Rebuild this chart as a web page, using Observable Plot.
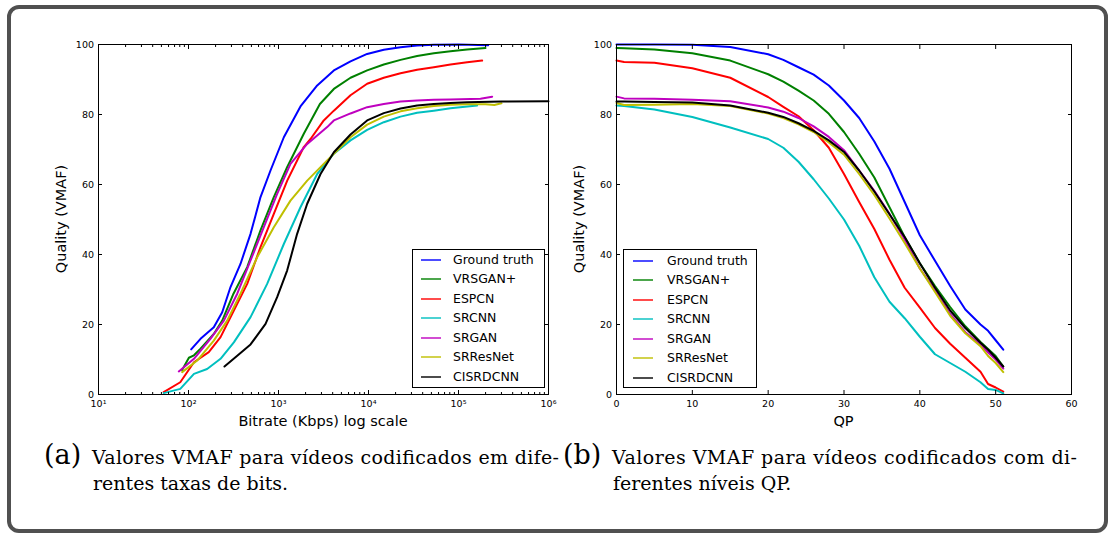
<!DOCTYPE html>
<html><head><meta charset="utf-8">
<script src="https://cdn.jsdelivr.net/npm/d3@7"></script>
<script src="https://cdn.jsdelivr.net/npm/@observablehq/plot@0.6"></script>
<style>
body{margin:0;background:#fff;}
#wrap{position:relative;width:1109px;height:536px;overflow:hidden;background:#fff;font-family:"DejaVu Sans",sans-serif;}
#box{position:absolute;left:7px;top:5px;width:1101px;height:528px;border:4px solid #505050;border-radius:12px;box-sizing:border-box;}
.plot{position:absolute;top:0;}
.legend{position:absolute;border:1px solid #000;background:#fff;box-sizing:border-box;}
.lrow{position:absolute;height:20px;font-size:12.5px;line-height:20px;color:#000;white-space:nowrap;}
.lline{position:absolute;top:9px;height:2px;width:20px;}
.axt{position:absolute;font-size:14.5px;line-height:17px;white-space:nowrap;color:#000;}
#cap{position:absolute;left:0;top:0;}
</style></head>
<body><div id="wrap"><div id="box"></div></div>
<script>
// ---------- Series (legend order) ----------
const seriesNames = ["Ground truth","VRSGAN+","ESPCN","SRCNN","SRGAN","SRResNet","CISRDCNN"];
const seriesColors = ["#0000ff","#008000","#ff0000","#00bfbf","#bf00bf","#bfbf00","#000000"];

// ---------- Panel (a): bitrate (Kbps) vs VMAF ----------
const gtRate  = [107,136,191,237,293,378,489,631,815,1146,1754,2692,4121,6310,9661,14791,22699,34674,53211,100000,213800];
const gtVmaf  = [12.9,15.9,19.2,23.5,30.7,37.3,45.9,56.4,64,73.5,82.3,88.3,92.6,95.2,97.3,98.5,99.2,99.7,99.9,100,99.8];
const vrRate  = [85,101,115,136,191,237,316,449,631,887,1250,1910,2884,4121,6310,9661,14791,22699,34674,53211,81470,124700,199500];
const vrVmaf  = [7.0,10.5,11.2,13.1,17.3,21.1,28.8,36.4,46.9,56.4,65,74.5,83,87.3,90.5,92.6,94.3,95.6,96.7,97.5,98.1,98.6,99.0];
const esRate  = [53,81,115,168,227,305,449,631,887,1250,1910,2270,3184,4121,6310,9661,14791,22699,34674,53211,81470,124700,183200];
const esVmaf  = [0.7,3.5,9.2,12.1,16.4,23,31.6,42.1,51.6,61.1,70.7,73,78.3,81.1,85.5,88.8,90.5,91.8,92.8,93.5,94.3,94.9,95.4];
const scRate  = [53,81,115,161,227,319,489,748,1146,1754,2692,4121,6310,9661,14791,22699,34674,53211,81470,161100];
const scVmaf  = [0.4,1.6,5.9,7.3,10.2,14.9,22.1,31.6,43,53.5,63,68.8,72.6,75.6,77.8,79.4,80.5,81.1,81.8,82.6];
const sgRate  = [78,115,175,247,348,489,687,966,1358,2084,3475,4121,6310,9661,14791,22699,34674,53211,81470,175400,236600];
const sgVmaf  = [6.6,10.2,15.9,21.1,28.8,38.3,47.8,57.3,65.9,71.6,76.4,78.3,80.3,82.1,83,83.7,84,84.2,84.3,84.5,85.1];
const srRate  = [85,125,191,269,378,579,887,1358,2084,3475,6310,9661,14791,22699,34674,53211,81470,124700,200000,250000,300000];
const srVmaf  = [6.4,9.7,15.4,21.1,28.8,39.2,47.8,55.4,61.1,66.9,73.5,77.1,79.4,80.9,81.8,82.4,82.8,82.9,82.9,82.7,83.2];
const ciRate  = [251,348,489,718,966,1247,1611,2084,2931,4121,6310,9661,14791,22699,34674,53211,81470,124700,300000,1000000];
const ciVmaf  = [8,11.1,14.3,20.2,27.8,35.4,45.9,54.5,63,69.2,74.3,78.3,80.4,81.7,82.6,83,83.3,83.5,83.7,83.8];

// ---------- Panel (b): QP vs VMAF ----------
const qp     = [0,1,5,10,15,20,22,24,26,28,30,32,34,36,38,40,42,44,46,48,49,50,51];
const gtQp   = [100,100,100,99.9,99.3,97.2,95.6,93.5,91.4,88.3,84,79,72.3,64.5,55,45.5,38.2,31,24.3,20,18.2,15.5,12.8];
const vrQp   = [99,98.9,98.6,97.5,95.4,91.5,89.4,86.8,84,80.2,75,68.8,62,53.5,45,37.5,31,25,19.5,15,13,11,8];
const esQp   = [95.4,95,94.8,93.2,90.5,85,82.2,79.5,75.5,70.5,63,55,47.3,38.5,30.5,24.8,19,14.5,10.5,6.5,3,2,0.8];
const scQp   = [82.6,82.4,81.4,79.3,76.3,73,70.5,66.5,61.5,56,50,42.5,33.5,26.5,21.8,16.5,11.5,9,6.5,3.5,1.6,1.3,0.3];
const sgQp   = [85.1,84.6,84.5,84.2,83.8,82,80.8,79,76.6,73.6,69.8,64,58.2,51.6,44.3,36,29.8,23,17.8,14.3,12,10,7.4];
const srQp   = [83.3,82.7,82.8,83.0,82.4,80.3,79,77.2,75,72,68.5,63,57,50.3,43.3,36,29.3,22.5,17.5,13.8,11,9,6.4];
const ciQp   = [83.7,83.7,83.6,83.4,82.6,80.5,79.3,77.5,75.3,72.6,69.3,64,58,51.5,45,37.5,30.5,24,19,14.8,12.8,10.5,8];

// ---------- Axis ticks / titles ----------
const logMajor = [1e1,1e2,1e3,1e4,1e5,1e6];
const logMinor = [20,30,40,50,60,70,80,90,200,300,400,500,600,700,800,900,2e3,3e3,4e3,5e3,6e3,7e3,8e3,9e3,2e4,3e4,4e4,5e4,6e4,7e4,8e4,9e4,2e5,3e5,4e5,5e5,6e5,7e5,8e5,9e5];
const qpTicks = [0,10,20,30,40,50,60];
const vmafTicks = [0,20,40,60,80,100];
const supDigits = {"1":"¹","2":"²","3":"³","4":"⁴","5":"⁵","6":"⁶"};
const xTitles = ["Bitrate (Kbps) log scale","QP"];
const yTitle = "Quality (VMAF)";

const rateSets = [[gtRate,gtVmaf],[vrRate,vrVmaf],[esRate,esVmaf],[scRate,scVmaf],[sgRate,sgVmaf],[srRate,srVmaf],[ciRate,ciVmaf]];
const qpSets = [gtQp,vrQp,esQp,scQp,sgQp,srQp,ciQp];

const rowsA = [];
rateSets.forEach(([xs,ys],i)=>xs.forEach((x,j)=>rowsA.push({s:seriesNames[i],x,y:ys[j]})));
const rowsB = [];
qpSets.forEach((ys,i)=>qp.forEach((x,j)=>rowsB.push({s:seriesNames[i],x,y:ys[j]})));

const blank = () => "";
const style = {fontFamily:"DejaVu Sans",fontSize:"9.5px",background:"transparent",overflow:"visible",color:"#000"};
function yAxes(){
  return [
    Plot.axisY({anchor:"left",ticks:vmafTicks,tickSize:-4,tickPadding:8.5,label:null}),
    Plot.axisY({anchor:"right",ticks:vmafTicks,tickSize:-4,tickFormat:blank,label:null})
  ];
}

const plotA = Plot.plot({
  width:560,height:440,marginLeft:98,marginRight:12,marginTop:44,marginBottom:46,
  style,
  x:{type:"log",domain:[10,1e6]},
  y:{domain:[0,100]},
  color:{domain:seriesNames,range:seriesColors},
  marks:[
    Plot.line(rowsA,{x:"x",y:"y",z:"s",stroke:"s",strokeWidth:2,curve:"linear"}),
    Plot.frame({stroke:"#000"}),
    Plot.axisX({anchor:"bottom",ticks:logMajor,tickSize:-4,tickPadding:9.5,label:null,
      tickFormat:d=>"10"+supDigits[String(Math.round(Math.log10(d)))]}),
    Plot.axisX({anchor:"bottom",ticks:logMinor,tickSize:-2,tickFormat:blank,label:null}),
    Plot.axisX({anchor:"top",ticks:logMajor,tickSize:-4,tickFormat:blank,label:null}),
    Plot.axisX({anchor:"top",ticks:logMinor,tickSize:-2,tickFormat:blank,label:null}),
    ...yAxes()
  ]
});
plotA.classList.add("plot"); plotA.style.left="0px";

const plotB = Plot.plot({
  width:549,height:440,marginLeft:56,marginRight:38,marginTop:44,marginBottom:46,
  style,
  x:{domain:[0,60]},
  y:{domain:[0,100]},
  color:{domain:seriesNames,range:seriesColors},
  marks:[
    Plot.line(rowsB,{x:"x",y:"y",z:"s",stroke:"s",strokeWidth:2,curve:"linear"}),
    Plot.frame({stroke:"#000"}),
    Plot.axisX({anchor:"bottom",ticks:qpTicks,tickSize:-4,tickPadding:9.5,label:null}),
    Plot.axisX({anchor:"top",ticks:qpTicks,tickSize:-4,tickFormat:blank,label:null}),
    ...yAxes()
  ]
});
plotB.classList.add("plot"); plotB.style.left="560px";

const wrap = document.getElementById("wrap");
wrap.appendChild(plotA);
wrap.appendChild(plotB);

// axis titles (HTML), placed relative to each plot's frame
[[plotA,0],[plotB,560]].forEach(([p,off],k)=>{
  const sx=p.scale("x"), sy=p.scale("y");
  const cx = off + (sx.range[0]+sx.range[1])/2;
  const by = sy.range[0], cy=(sy.range[0]+sy.range[1])/2;
  const xl=document.createElement("div"); xl.className="axt"; xl.textContent=xTitles[k];
  Object.assign(xl.style,{left:cx+"px",top:(by+27)+"px",transform:"translate(-50%,-50%)"});
  const yl=document.createElement("div"); yl.className="axt"; yl.textContent=yTitle;
  Object.assign(yl.style,{left:(off+sx.range[0]-37)+"px",top:cy+"px",transform:"translate(-50%,-50%) rotate(-90deg)"});
  wrap.appendChild(xl); wrap.appendChild(yl);
});

// legends
function legend(left, top, w, h, lineX, textX, rowY0, rowStep){
  const lg = document.createElement("div");
  lg.className="legend";
  Object.assign(lg.style,{left:left+"px",top:top+"px",width:w+"px",height:h+"px"});
  seriesNames.forEach((n,i)=>{
    const r=document.createElement("div");
    r.className="lrow";
    r.style.left="0px"; r.style.top=(rowY0+i*rowStep-10)+"px"; r.style.width=w+"px";
    const l=document.createElement("div");
    l.className="lline";
    Object.assign(l.style,{left:lineX+"px",background:seriesColors[i],opacity:"0.7"});
    const t=document.createElement("span");
    t.textContent=n; t.style.position="absolute"; t.style.left=textX+"px";
    r.appendChild(l); r.appendChild(t); lg.appendChild(r);
  });
  wrap.appendChild(lg);
}
legend(412,249,133,139,8,40,9.5,19.5);
legend(623,249,134,139,9,43,10.5,19.5);

// captions
const svg = d3.select(wrap).append("svg").attr("id","cap").attr("width",1109).attr("height",536)
  .style("font-family","'DejaVu Serif',serif").style("pointer-events","none");
const caps = [
  {tag:"(a)",tx:44,x:92,l1:"Valores VMAF para vídeos codificados em dife-",w:467,l2:"rentes taxas de bits.",x2:93},
  {tag:"(b)",tx:563,x:612,l1:"Valores VMAF para vídeos codificados com di-",w:465,l2:"ferentes níveis QP.",x2:613}
];
caps.forEach(c=>{
  svg.append("text").attr("x",c.tx).attr("y",464).attr("font-size",27).text(c.tag);
  svg.append("text").attr("x",c.x).attr("y",464).attr("font-size",19)
    .attr("textLength",c.w).attr("lengthAdjust","spacing").text(c.l1);
  svg.append("text").attr("x",c.x2).attr("y",490).attr("font-size",19).text(c.l2);
});
</script>
</body></html>
